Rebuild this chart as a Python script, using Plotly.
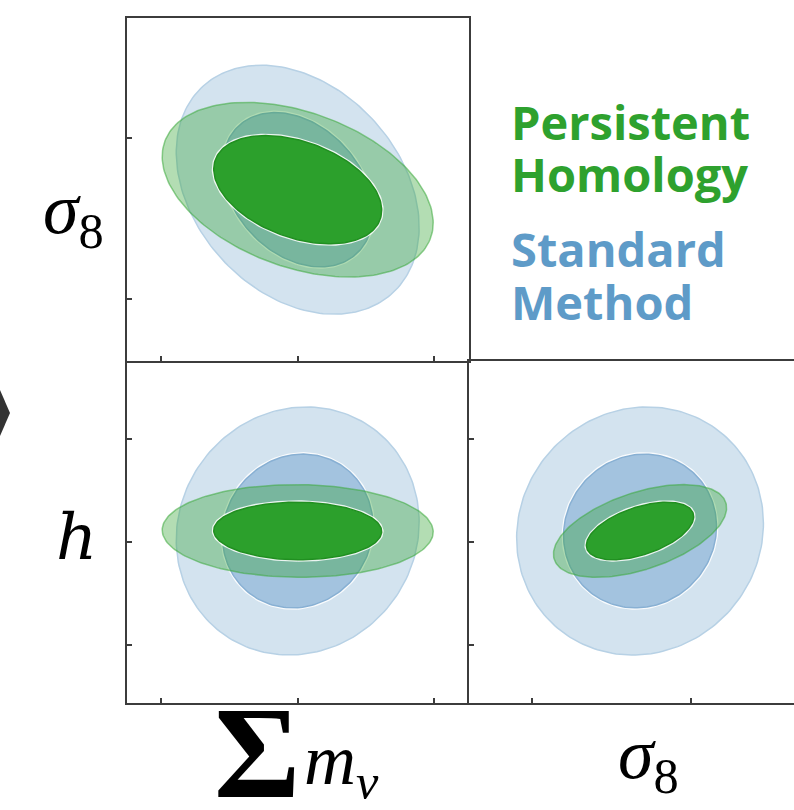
import numpy as np
import plotly.graph_objects as go

W, H = 794, 810

# ---------------- data (Fisher-forecast style) ----------------
param_names = ["Mnu", "s8", "h"]
fiducial = [0.0, 0.8336, 0.6711]              # Σmν, σ8, h
tick_Mnu = [-0.1, 0.0, 0.1]
tick_s8 = [0.82, 0.84]
tick_h = [0.66, 0.67, 0.68]

sigma_standard = [0.0363, 0.00633, 0.00492]   # 1σ marginal errors
sigma_ph = [0.0405, 0.00444, 0.00184]

pairs = [(0, 1), (0, 2), (1, 2)]              # (x param, y param) per panel
rho_standard = [-0.30, 0.07, 0.06]
rho_ph = [-0.38, -0.02, 0.50]

dchi2_levels = [5.99, 2.30]                   # 95% and 68% (2 dof)

# ---------------- helpers ----------------
def px(x):
    return x / W

def py(y):
    return 1 - y / H

def ellipse(i, j, sig, rho, dchi2, n=200):
    sx, sy = sig[i], sig[j]
    cov = np.array([[sx * sx, rho * sx * sy], [rho * sx * sy, sy * sy]])
    vals, vecs = np.linalg.eigh(cov)
    t = np.linspace(0, 2 * np.pi, n)
    circ = np.vstack([np.cos(t), np.sin(t)])
    pts = vecs @ (np.sqrt(vals * dchi2)[:, None] * circ)
    return fiducial[i] + pts[0], fiducial[j] + pts[1]

fig = go.Figure()

panel_axes = [("x", "y"), ("x2", "y2"), ("x3", "y3")]

styles = {
    "std": [
        dict(fill="#d3e3ef", line="#b7d1e5", halo=False),
        dict(fill="#a3c3df", line="#88b0d3", halo=True),
    ],
    "ph": [
        dict(fill="rgba(44,160,44,0.36)", line="rgba(60,170,60,0.55)", halo=False),
        dict(fill="#2ca02c", line="#218f21", halo=True),
    ],
}

for k, (i, j) in enumerate(pairs):
    xa, ya = panel_axes[k]
    for key, sig, rho in (("std", sigma_standard, rho_standard[k]), ("ph", sigma_ph, rho_ph[k])):
        for lev, st in zip(dchi2_levels, styles[key]):
            ex, ey = ellipse(i, j, sig, rho, lev)
            if st["halo"]:
                fig.add_trace(go.Scatter(x=ex, y=ey, mode="lines", xaxis=xa, yaxis=ya,
                                         line=dict(color="rgba(255,255,255,0.85)", width=4),
                                         hoverinfo="skip", showlegend=False))
            fig.add_trace(go.Scatter(x=ex, y=ey, mode="lines", fill="toself", xaxis=xa, yaxis=ya,
                                     fillcolor=st["fill"], line=dict(color=st["line"], width=1.5),
                                     hoverinfo="skip", showlegend=False))

axis_common = dict(showgrid=False, zeroline=False, showticklabels=False, ticks="inside",
                   ticklen=5, tickwidth=2, tickcolor="#3c3c3c", showline=True,
                   linecolor="#3c3c3c", linewidth=2)

xd1 = [px(126.7), px(469)]
xd3 = [px(469), 1.0]
yd1 = [py(360.7), py(18)]
yd2 = [py(702.7), py(360.7)]

fig.update_layout(
    width=W, height=H, margin=dict(l=0, r=0, t=0, b=0),
    paper_bgcolor="white", plot_bgcolor="rgba(0,0,0,0)",
    xaxis=dict(domain=xd1, range=[-0.12509, 0.12531], tickvals=tick_Mnu, anchor="y", mirror=True, **axis_common),
    yaxis=dict(domain=yd1, range=[0.81232, 0.85497], tickvals=tick_s8, anchor="x", mirror=True, **axis_common),
    xaxis2=dict(domain=xd1, range=[-0.12509, 0.12531], tickvals=tick_Mnu, anchor="y2", mirror=False, **axis_common),
    yaxis2=dict(domain=yd2, range=[0.65443, 0.68763], tickvals=tick_h, anchor="x2", mirror=False, **axis_common),
    xaxis3=dict(domain=xd3, range=[0.81213, 0.85293], tickvals=tick_s8, anchor="y3", mirror=True, **axis_common),
    yaxis3=dict(domain=yd2, range=[0.65443, 0.68763], tickvals=tick_h, anchor="x3", mirror=False, **axis_common),
)

serif = "Liberation Serif"
math_font = dict(family=serif, size=72, color="black")
ann = [
    dict(x=px(73), y=py(214), text="<i>σ</i><sub>8</sub>", font=math_font, xanchor="center", yanchor="middle"),
    dict(x=px(76), y=py(537), text="<i>h</i>", font=dict(family="DejaVu Serif", size=64, color="black"),
         xanchor="center", yanchor="middle"),
    dict(x=px(648), y=py(759), text="<i>σ</i><sub>8</sub>", font=math_font, xanchor="center", yanchor="middle"),
    dict(x=px(257), y=py(752), text="<b>Σ</b>", font=dict(family=serif, size=132, color="black"),
         xanchor="center", yanchor="middle"),
    dict(x=px(302), y=py(765), text="<i>m</i><sub><i>ν</i></sub>", font=math_font, xanchor="left", yanchor="middle"),
]
legend_font = "Open Sans"
for txt, yc, col in (("Persistent", 122, "#2ea12e"), ("Homology", 174, "#2ea12e"),
                     ("Standard", 249, "#5e9bc8"), ("Method", 302, "#5e9bc8")):
    ann.append(dict(x=px(509), y=py(yc), text=f"<b>{txt}</b>",
                    font=dict(family=legend_font, size=47, color=col), xanchor="left", yanchor="middle"))
for a in ann:
    a.update(xref="paper", yref="paper", showarrow=False)
fig.update_layout(annotations=ann)

# partial arrow head at the left edge (from the neighbouring panel)
fig.add_shape(type="path", xref="paper", yref="paper",
              path=f"M 0 {py(390)} L {px(10)} {py(413)} L 0 {py(436)} Z",
              fillcolor="#333333", line=dict(width=0))

fig.write_html("out.html", config={"displayModeBar": False},
               post_script="document.body.style.margin='0';document.body.style.overflow='hidden';")
